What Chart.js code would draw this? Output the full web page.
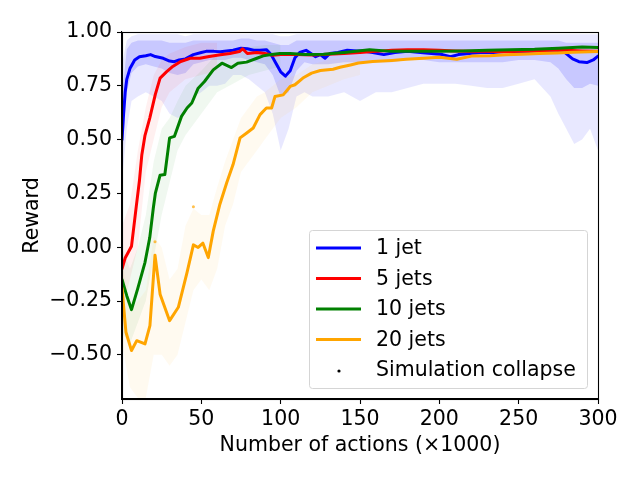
<!DOCTYPE html>
<html><head><meta charset="utf-8">
<script src="https://cdn.jsdelivr.net/npm/chart.js@4.4.0/dist/chart.umd.min.js"></script>
<style>html,body{margin:0;padding:0;background:#fff;overflow:hidden}canvas{display:block}</style>
</head><body>
<canvas id="c" width="640" height="480"></canvas>
<script>
const xTicks=[0,50,100,150,200,250,300];
const xTickLabels=['0','50','100','150','200','250','300'];
const yTicks=[-0.5,-0.25,0,0.25,0.5,0.75,1.0];
const yTickLabels=['\u22120.50','\u22120.25','0.00','0.25','0.50','0.75','1.00'];
const seriesLabels=['1 jet','5 jets','10 jets','20 jets','Simulation collapse'];
const seriesColors=['#0000ff','#ff0000','#008000','#ffa500'];

// smoothed curves
const blueX=[0,1,2,3,5,8,11,15,18,21,26,30,33,36,40,45,50,53,58,62,66,70,75,79,83,87,91,94,97,100,103,106,109,112,116,120,122,125,128,131,136,142,148,152,158,165,172,180,188,195,202,207,212,219,226,234,242,250,258,266,274,279,284,288,293,297,300];
const blueY=[0.50,0.62,0.72,0.78,0.83,0.87,0.885,0.89,0.895,0.886,0.878,0.865,0.862,0.87,0.875,0.895,0.905,0.91,0.91,0.908,0.912,0.915,0.925,0.922,0.915,0.915,0.918,0.895,0.855,0.815,0.795,0.82,0.88,0.905,0.915,0.895,0.885,0.895,0.878,0.90,0.905,0.915,0.912,0.912,0.905,0.895,0.905,0.91,0.905,0.90,0.895,0.885,0.895,0.90,0.905,0.905,0.91,0.905,0.91,0.915,0.915,0.905,0.875,0.862,0.858,0.87,0.888];

const redX=[0,2,6,9,11,12.5,14.5,17.5,21,24,28,32,37,43,49,55,62,68,74,76,79,85,90,95,100,110,120,130,140,150,160,170,180,190,200,210,220,230,240,250,260,270,280,290,300];
const redY=[-0.10,-0.05,0.005,0.19,0.31,0.43,0.52,0.60,0.71,0.786,0.815,0.84,0.863,0.878,0.878,0.886,0.894,0.90,0.909,0.922,0.90,0.905,0.90,0.892,0.895,0.895,0.893,0.897,0.90,0.905,0.91,0.915,0.918,0.918,0.915,0.912,0.91,0.91,0.908,0.91,0.912,0.915,0.915,0.912,0.91];

const greenX=[0,3,6,10,14.5,17.5,19.7,21,24,27,30,33,37.5,41,44,48,52,57.5,63,69,73,78.5,85,89,93,99.5,106,115,127,140,156,170,185,200,215,230,245,260,275,290,300];
const greenY=[-0.15,-0.225,-0.29,-0.19,-0.07,0.045,0.18,0.25,0.335,0.338,0.508,0.515,0.608,0.647,0.67,0.739,0.77,0.824,0.855,0.835,0.855,0.86,0.878,0.889,0.894,0.90,0.90,0.895,0.897,0.905,0.917,0.91,0.91,0.91,0.912,0.915,0.918,0.92,0.925,0.93,0.928];

const orangeX=[0,2.5,6,9.3,14.5,17.6,20.8,24,30,35.5,41,45,48,51,54.4,57.5,61.7,66,70,74.4,78.6,82.7,87,91,94.3,96.4,101.6,106,109,114,119.5,125,133,137.4,144,149,158,170,179,190,200,211,221,232,242,252,263,274,284,300];
const orangeY=[-0.19,-0.395,-0.48,-0.434,-0.449,-0.364,-0.037,-0.218,-0.341,-0.279,-0.117,0.011,-0.001,0.019,-0.048,0.075,0.2,0.30,0.384,0.508,0.531,0.554,0.616,0.647,0.647,0.70,0.708,0.747,0.755,0.786,0.809,0.821,0.827,0.836,0.847,0.856,0.863,0.868,0.873,0.878,0.883,0.873,0.889,0.89,0.894,0.897,0.90,0.903,0.906,0.909];

// raw-reward spread (upper / lower envelopes)
const blueBandX=[0,3,6,10,15,20,25,30,35,40,45,50,55,60,65,70,75,80,85,90,95,100,105,110,115,120,130,140,150,160,170,180,190,200,210,220,230,240,250,260,270,275,280,285,290,295,300];
const blueBandHi=[0.85,0.96,0.98,0.99,0.99,0.99,0.99,0.99,0.99,0.98,0.99,0.99,0.99,0.99,0.99,0.99,0.99,0.99,0.99,0.99,0.99,0.98,0.98,0.99,0.99,0.99,0.99,0.99,0.99,0.99,0.99,0.99,0.99,0.99,0.99,0.99,0.99,0.99,0.99,0.99,0.99,0.99,0.99,0.99,0.99,0.99,0.99];
const blueBandLo=[0.30,0.55,0.68,0.70,0.72,0.70,0.68,0.62,0.60,0.62,0.70,0.72,0.75,0.75,0.76,0.80,0.80,0.78,0.75,0.72,0.62,0.45,0.55,0.70,0.72,0.70,0.70,0.72,0.68,0.72,0.72,0.74,0.76,0.76,0.76,0.75,0.74,0.74,0.76,0.78,0.70,0.62,0.55,0.48,0.50,0.55,0.45];
const blueCoreHi=[0.70,0.92,0.95,0.96,0.96,0.96,0.96,0.95,0.95,0.95,0.96,0.96,0.96,0.96,0.96,0.96,0.97,0.97,0.96,0.96,0.95,0.94,0.94,0.96,0.96,0.96,0.96,0.96,0.96,0.96,0.96,0.96,0.96,0.96,0.96,0.96,0.96,0.96,0.96,0.96,0.96,0.96,0.95,0.95,0.95,0.95,0.95];
const blueCoreLo=[0.40,0.72,0.81,0.84,0.85,0.84,0.83,0.81,0.80,0.81,0.85,0.86,0.87,0.87,0.87,0.88,0.88,0.87,0.86,0.85,0.80,0.70,0.72,0.82,0.86,0.85,0.85,0.86,0.86,0.86,0.86,0.87,0.87,0.86,0.86,0.86,0.86,0.86,0.87,0.87,0.86,0.83,0.78,0.74,0.74,0.76,0.75];

const redBandX=[0,5,10,15,20,25,30,40,50,60];
const redBandHi=[0.10,0.20,0.45,0.65,0.80,0.87,0.90,0.93,0.95,0.95];
const redBandLo=[-0.30,-0.15,0.00,0.35,0.50,0.65,0.72,0.78,0.80,0.82];

const greenBandX=[0,5,10,15,20,25,30,35,40,50,60,70,80,90,100];
const greenBandHi=[0.00,-0.10,0.00,0.15,0.40,0.55,0.60,0.68,0.75,0.82,0.90,0.92,0.93,0.94,0.94];
const greenBandLo=[-0.40,-0.45,-0.35,-0.25,-0.05,0.15,0.30,0.45,0.52,0.62,0.72,0.76,0.80,0.82,0.84];

const orangeBandX=[0,5,10,15,20,25,30,35,40,45,50,55,60,65,70,75,80,85,90,95,100,110,120,130,140,150];
const orangeBandHi=[-0.05,-0.30,-0.25,-0.20,0.05,0.00,-0.15,-0.10,0.10,0.18,0.15,0.15,0.28,0.40,0.50,0.60,0.65,0.70,0.72,0.75,0.78,0.80,0.85,0.87,0.88,0.89];
const orangeBandLo=[-0.45,-0.65,-0.70,-0.70,-0.50,-0.50,-0.55,-0.50,-0.35,-0.20,-0.15,-0.20,-0.10,0.10,0.20,0.35,0.40,0.45,0.50,0.55,0.60,0.65,0.72,0.75,0.78,0.80];

const collapseX=[20.8,45];
const collapseY=[0.026,0.188];

const FONT='"DejaVu Sans", sans-serif';
const FS=20.5;
const pts=(xs,ys)=>xs.map((x,i)=>({x:x,y:ys[i]}));

function band(xs,hi,lo,color,ord){
  return [
    {data:pts(xs,hi),borderWidth:0,pointRadius:0,fill:false,order:ord,showLine:true,borderColor:'rgba(0,0,0,0)'},
    {data:pts(xs,lo),borderWidth:0,pointRadius:0,fill:'-1',backgroundColor:color,order:ord,showLine:true,borderColor:'rgba(0,0,0,0)'}
  ];
}
function line(xs,ys,color,ord,label){
  return {label:label,data:pts(xs,ys),borderColor:color,borderWidth:3,pointRadius:0,fill:false,tension:0,order:ord,borderJoinStyle:'round',borderCapStyle:'round'};
}

const datasets=[].concat(
  band(blueBandX,blueBandHi,blueBandLo,'rgba(0,0,255,0.09)',20),
  band(blueBandX,blueCoreHi,blueCoreLo,'rgba(0,0,255,0.14)',19),
  band(redBandX,redBandHi,redBandLo,'rgba(255,0,0,0.06)',18),
  band(greenBandX,greenBandHi,greenBandLo,'rgba(0,128,0,0.06)',17),
  band(orangeBandX,orangeBandHi,orangeBandLo,'rgba(255,165,0,0.06)',16),
  [line(blueX,blueY,seriesColors[0],4,seriesLabels[0]),
   line(redX,redY,seriesColors[1],3,seriesLabels[1]),
   line(greenX,greenY,seriesColors[2],2,seriesLabels[2]),
   line(orangeX,orangeY,seriesColors[3],1,seriesLabels[3]),
   {label:seriesLabels[4],data:pts(collapseX,collapseY),showLine:false,pointRadius:1.5,pointBackgroundColor:'rgba(255,165,0,0.7)',pointBorderWidth:0,order:0}]
);

const framePlugin={
  id:'frame',
  afterDatasetsDraw(chart){
    const {ctx,chartArea:a}=chart;
    ctx.save();
    ctx.strokeStyle='#000';ctx.lineWidth=1.1;
    ctx.strokeRect(Math.round(a.left)+0.5,Math.round(a.top)+0.5,Math.round(a.right-a.left),Math.round(a.bottom-a.top));
    ctx.restore();
  },
  afterDraw(chart){
    const ctx=chart.ctx;
    ctx.save();
    const bx=309.5,by=230.5,bw=278,bh=158,r=3;
    ctx.beginPath();
    ctx.moveTo(bx+r,by);ctx.lineTo(bx+bw-r,by);ctx.quadraticCurveTo(bx+bw,by,bx+bw,by+r);
    ctx.lineTo(bx+bw,by+bh-r);ctx.quadraticCurveTo(bx+bw,by+bh,bx+bw-r,by+bh);
    ctx.lineTo(bx+r,by+bh);ctx.quadraticCurveTo(bx,by+bh,bx,by+bh-r);
    ctx.lineTo(bx,by+r);ctx.quadraticCurveTo(bx,by,bx+r,by);ctx.closePath();
    ctx.fillStyle='rgba(255,255,255,0.85)';ctx.fill();
    ctx.strokeStyle='#d5d5d5';ctx.lineWidth=1;ctx.stroke();
    const rows=[248,278.5,309,339.5,370];
    ctx.font=FS+'px '+FONT;ctx.textBaseline='middle';ctx.fillStyle='#000';
    for(let i=0;i<5;i++){
      const y=rows[i];
      if(i<4){
        ctx.beginPath();ctx.moveTo(316,y);ctx.lineTo(361,y);
        ctx.strokeStyle=seriesColors[i];ctx.lineWidth=3;ctx.stroke();
      }else{
        ctx.beginPath();ctx.arc(339,y+1,1.6,0,Math.PI*2);ctx.fillStyle='#000';ctx.fill();
      }
      ctx.fillStyle='#000';
      ctx.fillText(seriesLabels[i],376,y+1);
    }
    ctx.restore();
  }
};

new Chart(document.getElementById('c'),{
  type:'line',
  data:{datasets:datasets},
  options:{
    responsive:false,animation:false,devicePixelRatio:1,
    layout:{padding:{top:32,right:42,left:0,bottom:0}},
    plugins:{legend:{display:false},tooltip:{enabled:false},filler:{propagate:false}},
    elements:{point:{radius:0}},
    scales:{
      x:{type:'linear',min:0,max:300,
        afterFit(s){s.height=81;},
        afterBuildTicks(s){s.ticks=xTicks.map(v=>({value:v}));},
        ticks:{callback:(v)=>xTickLabels[xTicks.indexOf(v)],color:'#000',font:{family:FONT,size:FS},padding:3,maxRotation:0,autoSkip:false},
        grid:{drawOnChartArea:false,drawTicks:true,tickLength:5,tickColor:'#000',tickWidth:1.1},
        border:{display:true,color:'#000',width:1.1},
        title:{display:true,text:'Number of actions (\u00d71000)',color:'#000',font:{family:FONT,size:FS},padding:{top:0,bottom:22}}
      },
      y:{type:'linear',min:-0.705,max:1.0,
        afterFit(s){s.width=122;},
        afterBuildTicks(s){s.ticks=yTicks.map(v=>({value:v}));},
        ticks:{callback:(v)=>yTickLabels[yTicks.indexOf(v)],color:'#000',font:{family:FONT,size:FS},padding:5,autoSkip:false},
        grid:{drawOnChartArea:false,drawTicks:true,tickLength:5,tickColor:'#000',tickWidth:1.1},
        border:{display:true,color:'#000',width:1.1},
        title:{display:true,text:'Reward',color:'#000',font:{family:FONT,size:FS},padding:{top:20,bottom:0}}
      }
    }
  },
  plugins:[framePlugin]
});
</script>
</body></html>
